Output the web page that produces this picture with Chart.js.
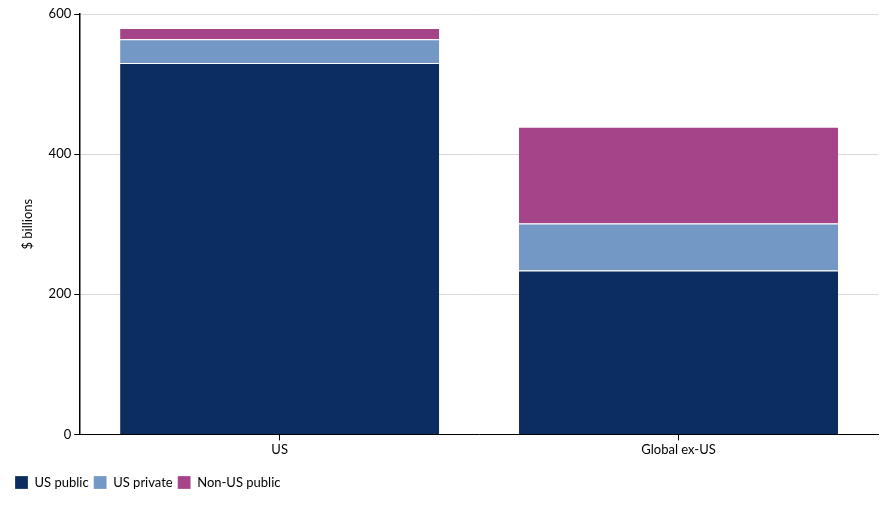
<!DOCTYPE html>
<html><head><meta charset="utf-8">
<script src="https://cdn.jsdelivr.net/npm/chart.js@4"></script>
<style>html,body{margin:0;padding:0;background:#fff}#wrap{width:885px;height:505px}</style>
</head><body><div id="wrap"><canvas id="c"></canvas></div>
<script>
const categories = ["US", "Global ex-US"];
const usPublic = [530, 234];
const usPrivate = [34, 67];
const nonUsPublic = [16, 138];
const yTicks = [0, 200, 400, 600];

Chart.defaults.font.family = "Lato, 'Open Sans', sans-serif";
Chart.defaults.font.size = 13;
Chart.defaults.color = "#000";

new Chart(document.getElementById('c'), {
  type: 'bar',
  data: {
    labels: categories,
    datasets: [
      {label: 'US public', data: usPublic, backgroundColor: '#0b2d60', borderColor: '#fff', borderWidth: {top: 1}, borderSkipped: false},
      {label: 'US private', data: usPrivate, backgroundColor: '#7398c6', borderColor: '#fff', borderWidth: {top: 1}},
      {label: 'Non-US public', data: nonUsPublic, backgroundColor: '#a6448a', borderColor: '#fff', borderWidth: {top: 1}}
    ]
  },
  options: {
    responsive: true, maintainAspectRatio: false, animation: false,
    layout: {padding: {left: 10, right: 7, top: 14, bottom: 6}},
    datasets: {bar: {categoryPercentage: 1, barPercentage: 0.8}},
    plugins: {
      legend: {position: 'bottom', align: 'start',
        labels: {boxWidth: 13, boxHeight: 13, padding: 5, font: {size: 13}}},
      tooltip: {enabled: false}
    },
    scales: {
      x: {stacked: true,
        afterFit: s => { s.height += 11; },
        grid: {display: true, offset: false, drawOnChartArea: false, drawTicks: true, tickLength: 6, color: '#000'},
        border: {display: true, color: '#000', width: 1},
        ticks: {padding: 2}},
      y: {stacked: true, min: 0, max: 600,
        afterBuildTicks: s => { s.ticks = yTicks.map(v => ({value: v})); },
        grid: {color: '#d9d9d9', tickLength: 6, tickColor: '#000', drawTicks: true},
        border: {display: true, color: '#000', width: 1.5},
        ticks: {padding: 3},
        title: {display: true, text: '$ billions', font: {size: 13}, padding: {top: 10, bottom: 10}}}
    }
  }
});
</script></body></html>
